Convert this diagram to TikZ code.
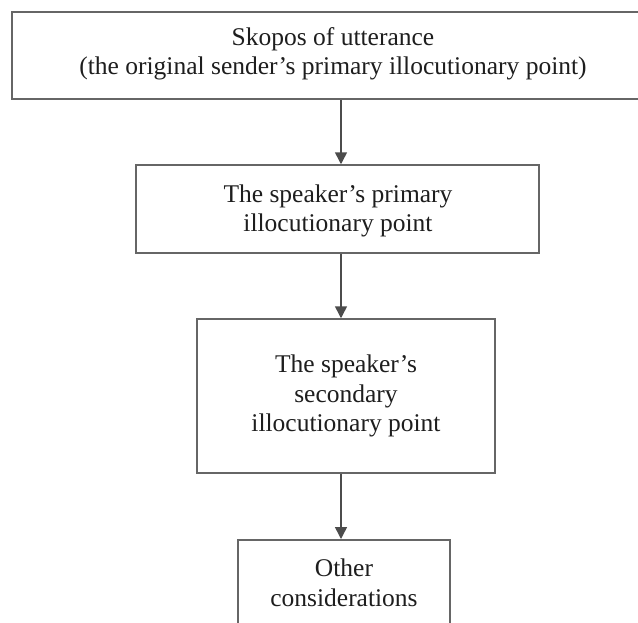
\documentclass[tikz,border=0pt]{standalone}
\usepackage{fontspec}
\setmainfont{Liberation Serif}
\usetikzlibrary{arrows.meta}
\definecolor{linegray}{HTML}{666666}
\definecolor{txt}{HTML}{1E1E1E}
\tikzset{
  boxfont/.style={font=\fontsize{25.5}{29.5}\selectfont},
  boxnode/.style={draw=linegray, line width=1.5pt, rectangle, align=center, text=txt,
    boxfont, inner sep=0pt},
  flowarrow/.style={draw=linegray, line width=1.5pt, -{Triangle[width=12pt,length=12pt]}, color=linegray!75!black}
}
\begin{document}
\begin{tikzpicture}[x=1pt,y=1pt]
\useasboundingbox (0,0) rectangle (638,-622);
\clip (0,0) rectangle (638,-622);
\fill[white] (0,0) rectangle (638,-622);
\node[boxnode, minimum width=653pt, minimum height=87pt] (a) at (338.5,-55.5) {};
\node[text=txt, boxfont, align=center, inner sep=0pt] (at) at (333,-54) {Skopos of utterance\\(the original sender’s primary illocutionary point)};
\node[boxnode, minimum width=403pt, minimum height=88pt] (b) at (337.5,-209) {};
\node[text=txt, boxfont, align=center, inner sep=0pt] (bt) at (338,-211) {The speaker’s primary\\illocutionary point};
\node[boxnode, minimum width=298pt, minimum height=154pt] (c) at (346,-396) {The speaker’s\\secondary\\illocutionary point};
\node[boxnode, minimum width=212pt, minimum height=92pt, anchor=north] (d) at (344,-539) {};
\node[text=txt, boxfont, align=center, inner sep=0pt] (dt) at (344,-583) {Other\\considerations};
\coordinate (ax) at (341,0);
\draw[flowarrow] (a.south -| ax) -- (b.north -| ax);
\draw[flowarrow] (b.south -| ax) -- (c.north -| ax);
\draw[flowarrow] (c.south -| ax) -- (d.north -| ax);
\end{tikzpicture}
\end{document}
